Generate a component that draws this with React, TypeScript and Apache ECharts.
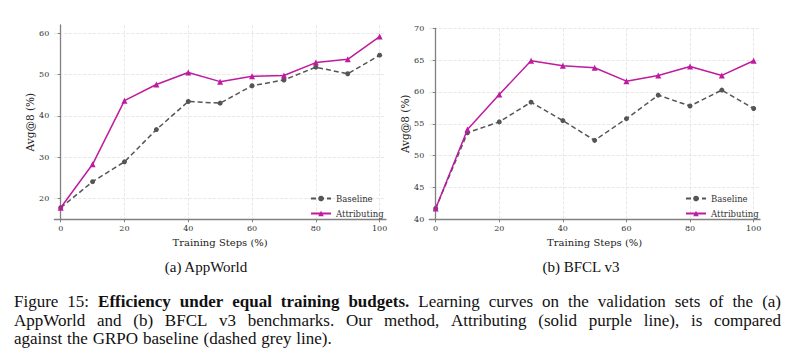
import React, { useEffect, useRef } from "react";
import * as echarts from "echarts";

const xSteps = [0, 10, 20, 30, 40, 50, 60, 70, 80, 90, 100];
const xTicks = [0, 20, 40, 60, 80, 100];

const appBaseline = [17.8, 24.1, 28.9, 36.7, 43.5, 43.1, 47.3, 48.7, 51.8, 50.2, 54.7];
const appAttributing = [17.8, 28.3, 43.7, 47.6, 50.5, 48.3, 49.6, 49.8, 52.9, 53.7, 59.2];
const appYTicks = [20, 30, 40, 50, 60];

const bfclBaseline = [41.7, 53.6, 55.3, 58.4, 55.5, 52.4, 55.8, 59.5, 57.8, 60.3, 57.4];
const bfclAttributing = [41.7, 54.1, 59.6, 64.9, 64.1, 63.8, 61.7, 62.6, 64.0, 62.6, 64.9];

const seriesNames = ["Baseline", "Attributing"];
const subCaptions = ["(a) AppWorld", "(b) BFCL v3"];
const xName = "Training Steps (%)";
const yName = "Avg@8 (%)";

const captionLines: { text: string; bold: boolean }[][] = [
  [
    { text: "Figure 15:", bold: false },
    { text: "Efficiency under equal training budgets.", bold: true },
    { text: "Learning curves on the validation sets of the (a)", bold: false },
  ],
  [{ text: "AppWorld and (b) BFCL v3 benchmarks.  Our method, Attributing (solid purple line), is compared", bold: false }],
  [{ text: "against the GRPO baseline (dashed grey line).", bold: false }],
];

const PURPLE = "#bf1b9f";
const GREY = "#555555";
const AXIS = "#808080";
const PLOT_FONT = "DejaVu Serif";
const CAP_FONT = "Liberation Serif";

function buildCaption(): any[] {
  const canvas = document.createElement("canvas");
  const ctx = canvas.getContext("2d")!;
  const left = 14;
  const right = 781;
  const ys = [301, 320, 338];
  const splitWords = (segs: { text: string; bold: boolean }[]) => {
    const r: { w: string; bold: boolean }[] = [];
    segs.forEach((s) => s.text.split(/\s+/).filter(Boolean).forEach((w) => r.push({ w, bold: s.bold })));
    return r;
  };
  const measure = (w: string, bold: boolean, size: number) => {
    ctx.font = `${bold ? "bold " : ""}${size}px "${CAP_FONT}"`;
    return ctx.measureText(w).width;
  };
  const base = 15;
  const first = splitWords(captionLines[0]);
  const natural =
    first.reduce((a, b) => a + measure(b.w, b.bold, base), 0) + (first.length - 1) * measure(" ", false, base) * 1.15;
  const size = Math.min(17, Math.max(14, (base * (right - left)) / natural));
  const out: any[] = [];
  captionLines.forEach((segs, li) => {
    const words = splitWords(segs).map((x) => ({ ...x, width: measure(x.w, x.bold, size) }));
    const total = words.reduce((a, b) => a + b.width, 0);
    const justify = li < captionLines.length - 1;
    const sp = justify ? (right - left - total) / (words.length - 1) : measure(" ", false, size) * 1.15;
    let x = left;
    words.forEach((wd) => {
      out.push({
        type: "text",
        x,
        y: ys[li],
        style: {
          text: wd.w,
          fontFamily: CAP_FONT,
          fontSize: size,
          fontWeight: wd.bold ? "bold" : "normal",
          fill: "#111",
          verticalAlign: "middle",
          align: "left",
        },
      });
      x += wd.width + sp;
    });
  });
  return out;
}

function xAxisCfg(gridIndex: number) {
  return {
    type: "value",
    gridIndex,
    min: -2,
    max: 102,
    name: xName,
    nameLocation: "middle",
    nameGap: 14,
    nameTextStyle: { fontFamily: PLOT_FONT, fontSize: 10, color: "#222" },
    axisLine: { lineStyle: { color: AXIS, width: 1.3 } },
    axisTick: { show: true, length: 3, customValues: xTicks, lineStyle: { color: AXIS } },
    axisLabel: { customValues: xTicks, fontFamily: PLOT_FONT, fontSize: 8, color: "#333", margin: 5 },
    splitLine: { show: true, lineStyle: { type: "dashed", color: "#e2e2e2", width: 0.8 } },
  };
}

function yAxisCfg(gridIndex: number, extra: any) {
  return {
    type: "value",
    gridIndex,
    name: yName,
    nameLocation: "middle",
    nameGap: 19,
    nameTextStyle: { fontFamily: PLOT_FONT, fontSize: 10.5, color: "#222" },
    axisLine: { show: true, lineStyle: { color: AXIS, width: 1.3 } },
    axisTick: { show: true, length: 3, lineStyle: { color: AXIS } },
    axisLabel: { fontFamily: PLOT_FONT, fontSize: 8, color: "#333", margin: 5 },
    splitLine: { show: true, lineStyle: { type: "dashed", color: "#e2e2e2", width: 0.8 } },
    ...extra,
  };
}

function lineSeries(name: string, idx: number, values: number[]) {
  const isBase = name === "Baseline";
  return {
    type: "line",
    name,
    xAxisIndex: idx,
    yAxisIndex: idx,
    data: xSteps.map((x, i) => [x, values[i]]),
    symbol: isBase ? "circle" : "triangle",
    symbolSize: isBase ? 5 : 6,
    lineStyle: { color: isBase ? GREY : PURPLE, width: 1.5, type: isBase ? [5, 3] : "solid" },
    itemStyle: { color: isBase ? GREY : PURPLE },
    z: isBase ? 2 : 3,
  };
}

function legendCfg(left: number) {
  return {
    left,
    top: 189,
    orient: "vertical",
    itemWidth: 20,
    itemHeight: 7,
    itemGap: 6,
    data: seriesNames,
    textStyle: { fontFamily: PLOT_FONT, fontSize: 8.5, color: "#333" },
  };
}

export default function App() {
  const ref = useRef<HTMLDivElement>(null);
  useEffect(() => {
    document.body.style.margin = "0";
    const chart = echarts.init(ref.current!, null, { renderer: "svg" });
    chart.setOption({
      animation: false,
      backgroundColor: "#fff",
      grid: [
        { left: 54.3, top: 25, width: 331.7, height: 194.3 },
        { left: 429.3, top: 28.3, width: 330.7, height: 191 },
      ],
      xAxis: [xAxisCfg(0), xAxisCfg(1)],
      yAxis: [
        yAxisCfg(0, { min: 15, max: 62, axisTick: { show: true, length: 3, customValues: appYTicks, lineStyle: { color: AXIS } }, axisLabel: { customValues: appYTicks, fontFamily: PLOT_FONT, fontSize: 8, color: "#333", margin: 5 } }),
        yAxisCfg(1, { min: 40, max: 70, interval: 5 }),
      ],
      legend: [legendCfg(305), legendCfg(680)],
      series: [
        lineSeries(seriesNames[0], 0, appBaseline),
        lineSeries(seriesNames[1], 0, appAttributing),
        lineSeries(seriesNames[0], 1, bfclBaseline),
        lineSeries(seriesNames[1], 1, bfclAttributing),
      ],
      graphic: [
        {
          type: "text",
          x: 206,
          y: 267,
          style: { text: subCaptions[0], fontFamily: CAP_FONT, fontSize: 15, fill: "#111", align: "center", verticalAlign: "middle" },
        },
        {
          type: "text",
          x: 581,
          y: 267,
          style: { text: subCaptions[1], fontFamily: CAP_FONT, fontSize: 15, fill: "#111", align: "center", verticalAlign: "middle" },
        },
        ...buildCaption(),
      ],
    });
    return () => chart.dispose();
  }, []);
  return <div ref={ref} style={{ width: 794, height: 355 }} />;
}
